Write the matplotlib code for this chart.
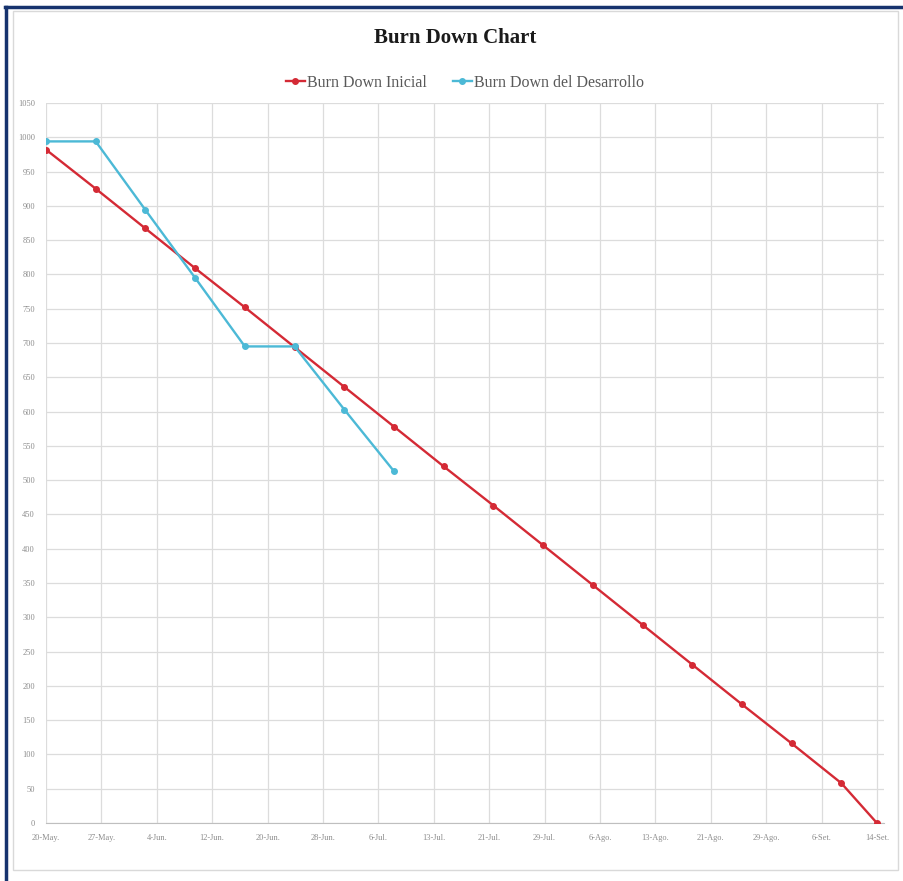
import matplotlib
matplotlib.use("Agg")
import matplotlib.pyplot as plt
import matplotlib.dates as mdates
from matplotlib.lines import Line2D
from matplotlib.patches import Rectangle
from datetime import datetime

## Donnees
fechas_inicial = ["2019-05-20", "2019-05-27", "2019-06-03", "2019-06-10", "2019-06-17",
                  "2019-06-24", "2019-07-01", "2019-07-08", "2019-07-15", "2019-07-22",
                  "2019-07-29", "2019-08-05", "2019-08-12", "2019-08-19", "2019-08-26",
                  "2019-09-02", "2019-09-09", "2019-09-14"]
burn_inicial = [982, 925, 867, 809, 752, 694, 636, 578, 520, 463, 405, 347, 289, 231, 173, 116, 58, 0]

fechas_desarrollo = fechas_inicial[:8]
burn_desarrollo = [994, 994, 894, 795, 695, 695, 603, 513]

etiquetas_x = ["20-May.", "27-May.", "4-Jun.", "12-Jun.", "20-Jun.", "28-Jun.", "6-Jul.", "13-Jul.",
               "21-Jul.", "29-Jul.", "6-Ago.", "13-Ago.", "21-Ago.", "29-Ago.", "6-Set.", "14-Set."]

rojo = "#d42a35"
cian = "#4cb9d6"
gris_texto = "#8c8c8c"
gris_grilla = "#dcdcdc"
fuente = "Liberation Serif"

x_ini = [datetime.strptime(f, "%Y-%m-%d") for f in fechas_inicial]
x_des = [datetime.strptime(f, "%Y-%m-%d") for f in fechas_desarrollo]

fig = plt.figure(figsize=(9.04, 8.81), dpi=100)
ax = fig.add_axes([46/904, 58/881, (884-46)/904, (823-103)/881])

ax.plot(x_ini, burn_inicial, color=rojo, linewidth=1.7, marker="o", markersize=4, label="Burn Down Inicial", zorder=3)
ax.plot(x_des, burn_desarrollo, color=cian, linewidth=1.7, marker="o", markersize=4, label="Burn Down del Desarrollo", zorder=4)

# axe x : 16 graduations regulieres entre le premier et le dernier jour
d0 = mdates.date2num(x_ini[0])
d1 = mdates.date2num(x_ini[-1])
ticks = [d0 + i*(d1 - d0)/(len(etiquetas_x) - 1) for i in range(len(etiquetas_x))]
ax.set_xticks(ticks)
ax.set_xticklabels(etiquetas_x)
ax.set_xlim(d0, d1 + 1)

ax.set_ylim(0, 1050)
ax.set_yticks(range(0, 1051, 50))

ax.grid(True, color=gris_grilla, linewidth=0.9)
ax.set_axisbelow(True)
for lado in ["top", "right", "left"]:
    ax.spines[lado].set_visible(False)
ax.spines["bottom"].set_color("#bfbfbf")
ax.tick_params(length=0, labelsize=6, labelcolor=gris_texto, pad=8)
for t in ax.get_xticklabels() + ax.get_yticklabels():
    t.set_fontfamily(fuente)

fig.text(0.503, 0.957, "Burn Down Chart", ha="center", va="center", fontsize=15,
         fontweight="bold", family=fuente, color="#1a1a1a")

ax.legend(loc="center", bbox_to_anchor=(0.5, 1.028), ncol=2, frameon=False,
          prop={"family": fuente, "size": 11.5}, labelcolor="#595959",
          handlelength=1.2, handletextpad=0.15, columnspacing=1.6)

# cadre
fig.add_artist(Rectangle((13/904, 11/881), (898-13)/904, (870-11)/881, transform=fig.transFigure,
                         fill=False, edgecolor="#d9d9d9", linewidth=1))
fig.add_artist(Line2D([6/904, 6/904], [0, 1 - 7/881], transform=fig.transFigure, color="#17336e", linewidth=2.5))
fig.add_artist(Line2D([5/904, 1], [1 - 7/881, 1 - 7/881], transform=fig.transFigure, color="#17336e", linewidth=2.5))

fig.savefig("out.png", dpi=100)
